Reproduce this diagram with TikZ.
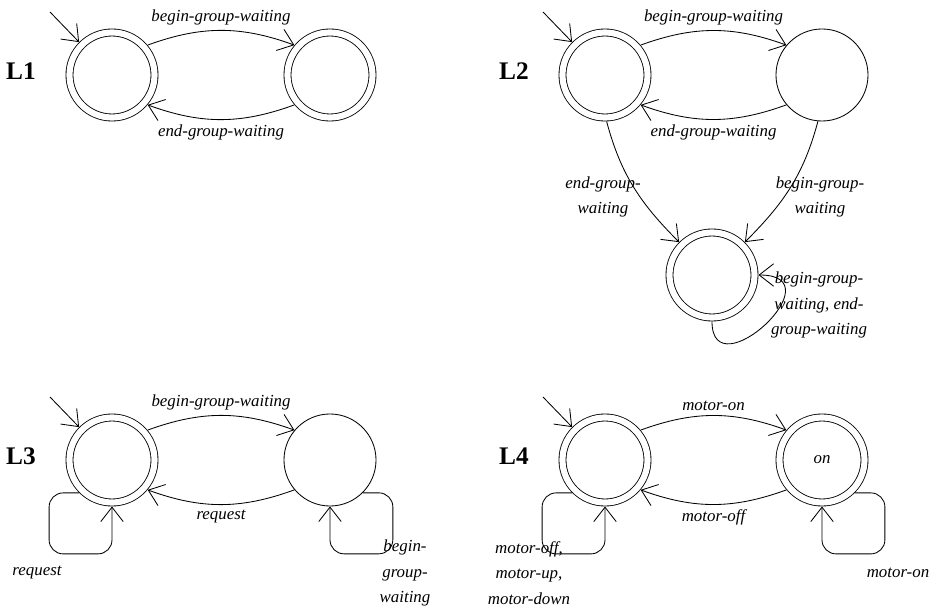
\documentclass[tikz,border=0pt]{standalone}
\usepackage{fontspec}
\setmainfont{Liberation Serif}
\usetikzlibrary{arrows.meta}

\begin{document}
\begin{tikzpicture}[x=0.025cm, y=0.025cm, line width=0.6pt,
    >={Straight Barb[length=0.36cm, width=0.56cm]},
    plain/.style={circle, draw, minimum size=2.3cm, inner sep=0pt},
    final/.style={circle, draw, double, double distance=0.154cm, minimum size=2.125cm, inner sep=0pt, outer sep=0.1cm},
    lbl/.style={font=\itshape\fontsize{12}{18}\selectfont, align=center},
    tag/.style={font=\bfseries\fontsize{18}{18}\selectfont},
    boxloop/.style={rounded corners=0.35cm}]
  \useasboundingbox (0,0) rectangle (936,-610);

  % L1
  \node[tag] (L1) at (21,-71) {L1};
  \node[final] (a1) at (112,-75) {};
  \node[final] (b1) at (330,-75) {};
  \coordinate (i1) at (50,-12);
  \draw[->] (i1) -- (a1.135);
  \draw[->] (a1.40) to[bend left=20] node[lbl, above] (a1b1) {begin-group-waiting} (b1.140);
  \draw[->] (b1.-140) to[bend left=20] node[lbl, below] (b1a1) {end-group-waiting} (a1.-40);

  % L2
  \node[tag] (L2) at (514,-71) {L2};
  \node[final] (a2) at (605,-75) {};
  \node[plain] (b2) at (822,-75) {};
  \node[final] (c2) at (712,-275) {};
  \coordinate (i2) at (543,-12);
  \draw[->] (i2) -- (a2.135);
  \draw[->] (a2.40) to[bend left=20] node[lbl, above] (a2b2) {begin-group-waiting} (b2.140);
  \draw[->] (b2.-140) to[bend left=20] node[lbl, below] (b2a2) {end-group-waiting} (a2.-40);
  \draw[->] (a2.-88) to[out=-75, in=135] (c2.135);
  \draw[->] (b2.-95) to[out=-105, in=45] (c2.45);
  \node[lbl] (a2c2) at (603,-197) {end-group-\\waiting};
  \node[lbl] (b2c2) at (820,-197) {begin-group-\\waiting};
  \draw[->] (c2.south) .. controls +(0,-70) and +(80,0) .. (c2.east);
  \node[lbl] (c2c2) at (819,-305) {begin-group-\\waiting, end-\\group-waiting};

  % L3
  \node[tag] (L3) at (21,-456) {L3};
  \node[final] (a3) at (112,-460) {};
  \node[plain] (b3) at (330,-460) {};
  \coordinate (i3) at (50,-397);
  \draw[->] (i3) -- (a3.135);
  \draw[->] (a3.40) to[bend left=20] node[lbl, above] (a3b3) {begin-group-waiting} (b3.140);
  \draw[->] (b3.-140) to[bend left=20] node[lbl, below] (b3a3) {request} (a3.-40);
  \draw[->, boxloop] (a3.-135) -| ++(-30,-61) -| (a3.south);
  \draw[->, boxloop] (b3.-45) -| ++(30,-61) -| (b3.south);
  \node[lbl] (a3a3) at (37,-573) {request};
  \node[lbl] (b3b3) at (405,-573) {begin-\\group-\\waiting};

  % L4
  \node[tag] (L4) at (514,-456) {L4};
  \node[final] (a4) at (605,-460) {};
  \node[final, lbl] (b4) at (822,-460) {on};
  \coordinate (i4) at (543,-397);
  \draw[->] (i4) -- (a4.135);
  \draw[->] (a4.40) to[bend left=20] node[lbl, above] (a4b4) {motor-on} (b4.140);
  \draw[->] (b4.-140) to[bend left=20] node[lbl, below] (b4a4) {motor-off} (a4.-40);
  \draw[->, boxloop] (a4.-135) -| ++(-30,-61) -| (a4.south);
  \draw[->, boxloop] (b4.-45) -| ++(30,-61) -| (b4.south);
  \node[lbl] (a4a4) at (529,-573) {motor-off,\\motor-up,\\motor-down};
  \node[lbl] (b4b4) at (898,-573) {motor-on};
\end{tikzpicture}
\end{document}
